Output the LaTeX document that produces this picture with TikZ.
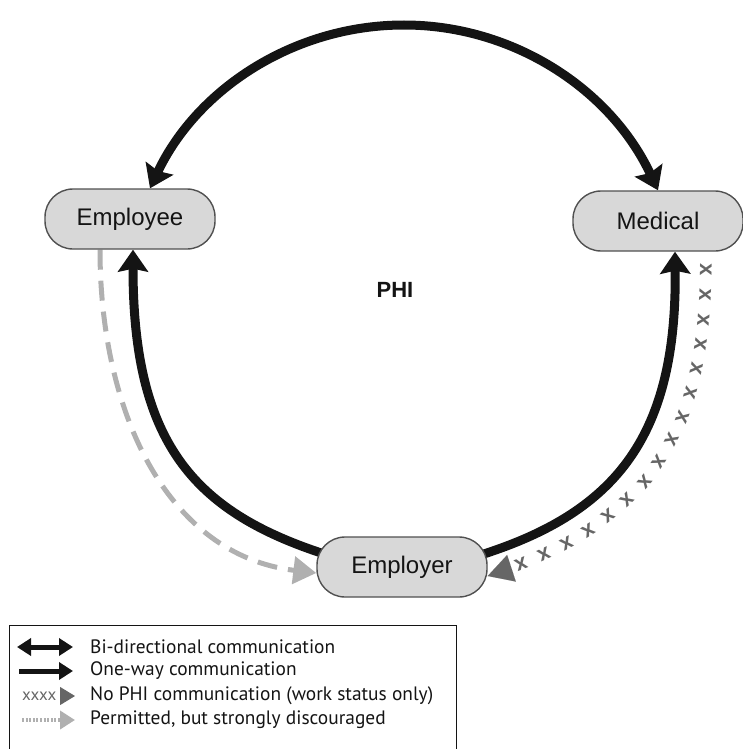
\documentclass[tikz,border=0pt]{standalone}
\usepackage{fontspec}
\setmainfont{Liberation Sans}
\newfontfamily\legfont{PT Sans}
\usetikzlibrary{arrows.meta,decorations.markings,backgrounds}
\definecolor{blk}{HTML}{141414}
\definecolor{boxfill}{HTML}{D8D8D8}
\definecolor{boxline}{HTML}{505050}
\definecolor{lgray}{HTML}{B0B0B0}
\definecolor{dgray}{HTML}{666666}
\tikzset{
  box/.style={draw=boxline, line width=1.4pt, fill=boxfill, rounded corners=28pt,
    minimum width=170pt, minimum height=60pt, inner sep=0pt,
    font=\fontsize{24}{28}\selectfont, text=blk},
  blkline/.style={draw=blk, line width=9pt},
  bigtip/.tip={Stealth[length=22pt, width=30pt, inset=3pt]},
  dshline/.style={draw=lgray, line width=5pt, dash pattern=on 20pt off 11pt},
  xm/.style={text=dgray, font=\bfseries\fontsize{22}{22}\selectfont, inner sep=0pt},
  xpath/.style={draw=white, line width=0.01pt, -{Triangle[length=25pt, width=28pt, color=dgray, fill=dgray]},
    postaction={decorate, decoration={markings,
    mark=between positions 18pt and -24pt step 25pt with {\node[xm, transform shape] {x};}}}},
  legtext/.style={anchor=west, font=\legfont\fontsize{19.4}{22}\selectfont, text=blk, inner sep=0pt},
  legtip/.tip={Triangle[length=14pt,width=17pt]},
}
\begin{document}
\begin{tikzpicture}[x=1pt, y=-1pt]
\useasboundingbox (0,0) rectangle (743,749);
% nodes
\node[box] (emp) at (130,219) {Employee};
\node[box] (med) at (658,221) {Medical};
\node[box] (er) at (402,567) {Employer};
\node[font=\bfseries\fontsize{22}{24}\selectfont, text=blk] (phi) at (395,290) {PHI};
% connectors
\begin{scope}[on background layer]
\draw[blkline, bigtip-bigtip] ([xshift=20pt]emp.north) .. controls (197,89) and (294,25) .. (404,25)
   .. controls (514,25) and (611,90) .. (med.north);
\draw[blkline, -bigtip] ([xshift=8pt,yshift=13pt]er.west) .. controls (192,511) and (133,441) .. ([xshift=3pt]emp.south);
\draw[blkline, -bigtip] ([xshift=-4pt,yshift=13pt]er.east) .. controls (617,511) and (677,435) .. ([xshift=17pt]med.south);
\draw[dshline, -{Triangle[length=23pt, width=27pt]}] ([xshift=-30pt]emp.south) .. controls (100,412) and (167,555) .. ([yshift=-6pt]er.west);
\draw[xpath] ([xshift=48pt]med.south) .. controls (707,425) and (660,520) .. ([yshift=-9pt]er.east);
\end{scope}
% legend
\draw[draw=blk, line width=0.9pt] (9,625) rectangle (456,760);
\coordinate (l1a) at (17,647); \coordinate (l1b) at (73,647);
\coordinate (l2a) at (19,671); \coordinate (l2b) at (73,671);
\coordinate (l3a) at (62,696); \coordinate (l3b) at (75,696);
\coordinate (l4a) at (22,720); \coordinate (l4b) at (75,720);
\draw[blk, line width=5pt, legtip-legtip] (l1a) -- (l1b);
\draw[blk, line width=5pt, -legtip] (l2a) -- (l2b);
\node[text=dgray, font=\legfont\fontsize{17}{17}\selectfont, anchor=west, inner sep=0pt] (l3x) at (22,696) {xxxx};
\draw[dgray, line width=1pt, -{Triangle[length=15pt,width=18pt]}] (l3a) -- (l3b);
\draw[lgray, line width=4pt, dash pattern=on 2pt off 1.6pt, -{Triangle[length=15pt,width=18pt]}] (l4a) -- (l4b);
\node[legtext] (t1) at (90,647) {Bi-directional communication};
\node[legtext] (t2) at (90,671) {One-way communication};
\node[legtext] (t3) at (90,696) {No PHI communication (work status only)};
\node[legtext] (t4) at (90,720) {Permitted, but strongly discouraged};
\end{tikzpicture}
\end{document}
